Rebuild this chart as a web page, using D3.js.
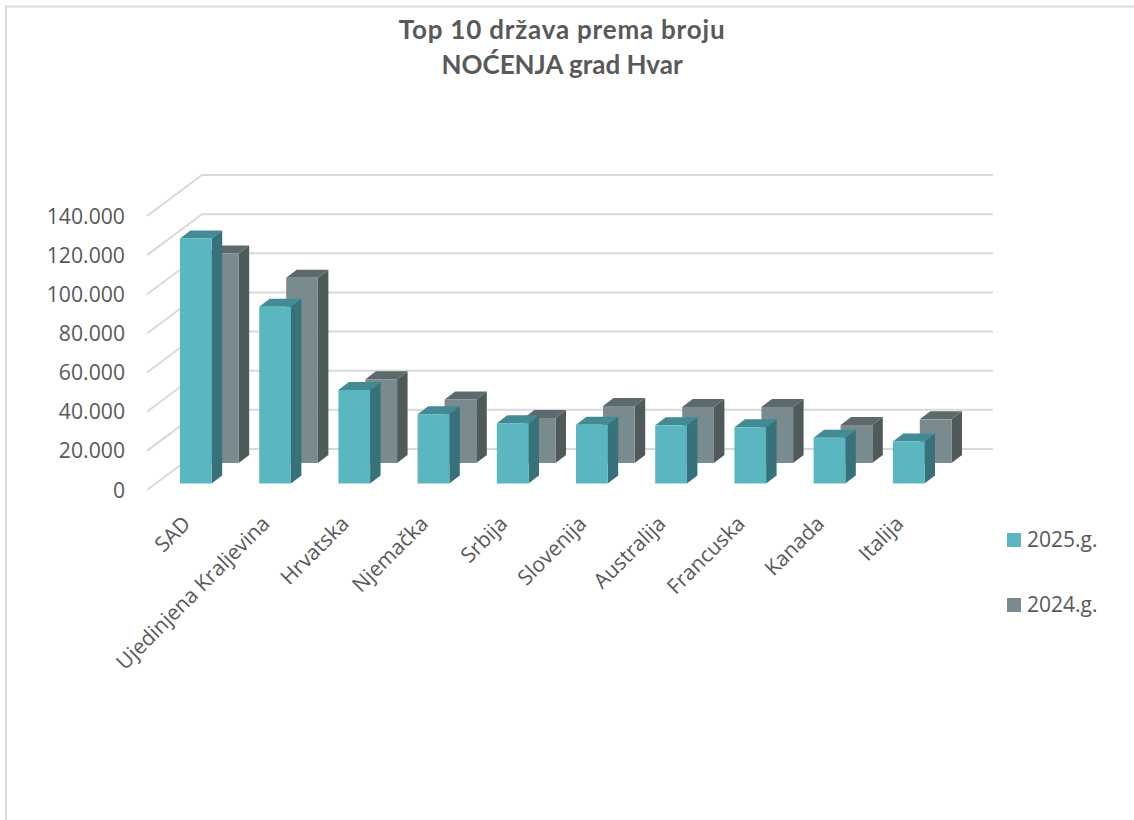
<!DOCTYPE html>
<html>
<head>
<meta charset="utf-8">
<script src="https://cdn.jsdelivr.net/npm/d3@7"></script>
<style>
  html, body { margin: 0; padding: 0; background: #fff; }
  svg { display: block; }
  text { font-family: "Open Sans", Lato, sans-serif; fill: #595959; }
</style>
</head>
<body>
<svg width="1134" height="820"></svg>
<script>
// podaci ocitani sa slike
var drzave = ["SAD", "Ujedinjena Kraljevina", "Hrvatska", "Njemačka", "Srbija", "Slovenija", "Australija", "Francuska", "Kanada", "Italija"];
var god2025 = [125200, 90300, 47800, 35400, 30800, 30000, 29700, 28700, 23400, 21400];
var god2024 = [107000, 94700, 42800, 32500, 23000, 29100, 28600, 28600, 19400, 22300];
var yTicks = [0, 20000, 40000, 60000, 80000, 100000, 120000, 140000];
var naslov = ["Top 10 država prema broju", "NOĆENJA grad Hvar"];
var serije = [
  {name: "2024.g.", values: god2024, front: "#7a8b8f", top: "#5c6a6b", side: "#4f5b5b", dx: 27, dy: -27},
  {name: "2025.g.", values: god2025, front: "#5ab6c1", top: "#428a94", side: "#37727b", dx: 0, dy: -6.5}
];

var svg = d3.select("svg");

// okvir grafikona
svg.append("path")
    .attr("d", "M6,820V6.5H1134")
    .attr("fill", "none")
    .attr("stroke", "#d9d9d9")
    .attr("stroke-width", 2);

// skale: y na prednjem rubu poda, x za prednju stranu stupca
var y = d3.scaleLinear().domain([0, 140000]).range([490, 216]);
var x = d3.scaleBand().domain(drzave).range([140.4, 964.1]).paddingInner(0.6).paddingOuter(0.5);

// pomak od prednjeg do straznjeg ruba poda, i dubina stupca
var dubina = {x: 55, y: -41};
var stupac = {x: 10.5, y: -8};

// mreza
var mreza = svg.append("g");
mreza.selectAll("path")
    .data(yTicks)
    .enter().append("path")
    .attr("d", function(d) {
      return "M147," + y(d) + "L" + (147 + dubina.x) + "," + (y(d) + dubina.y) + "H993";
    })
    .attr("fill", "none")
    .attr("stroke", "#d9d9d9")
    .attr("stroke-width", 2);

// stupci, straznja serija prva
serije.forEach(function(s) {
  var g = svg.append("g").selectAll("g")
      .data(s.values)
      .enter().append("g")
      .attr("transform", function(d, i) { return "translate(" + (x(drzave[i]) + s.dx) + ",0)"; });
  var w = x.bandwidth();
  var dno = y(0) + s.dy;
  var vrh = function(d) { return y(d) + s.dy; };

  // desna strana
  g.append("path")
      .attr("fill", s.side)
      .attr("d", function(d) {
        return "M" + w + "," + vrh(d) + "l" + stupac.x + "," + stupac.y + "V" + (dno + stupac.y) + "l" + (-stupac.x) + "," + (-stupac.y) + "Z";
      });
  // gornja strana
  g.append("path")
      .attr("fill", s.top)
      .attr("d", function(d) {
        return "M0," + vrh(d) + "l" + stupac.x + "," + stupac.y + "h" + w + "l" + (-stupac.x) + "," + (-stupac.y) + "Z";
      });
  // prednja strana
  g.append("rect")
      .attr("fill", s.front)
      .attr("y", vrh)
      .attr("width", w)
      .attr("height", function(d) { return dno - vrh(d); });
});

// y os
var yAxis = svg.append("g")
    .attr("transform", "translate(132,0)")
    .call(d3.axisLeft(y).tickValues(yTicks).tickSize(0).tickPadding(7).tickFormat(function(d) {
      return d3.format(",")(d).replace(/,/g, ".");
    }));
yAxis.select(".domain").remove();
yAxis.selectAll("text").attr("font-size", 21.2).style("font-family", "'Open Sans'").attr("dy", "0.33em");

// x os
var xAxis = svg.append("g")
    .attr("transform", "translate(0,490)")
    .call(d3.axisBottom(x).tickSize(0));
xAxis.select(".domain").remove();
xAxis.selectAll("text")
    .attr("font-size", 21)
    .style("font-family", "'Open Sans'")
    .attr("text-anchor", "end")
    .attr("x", 0)
    .attr("y", 0)
    .attr("dy", 0)
    .attr("transform", "translate(-4,35) rotate(-45)");

// naslov
svg.append("g").selectAll("text")
    .data(naslov)
    .enter().append("text")
    .attr("x", 562)
    .attr("y", function(d, i) { return 39 + i * 35; })
    .attr("text-anchor", "middle")
    .attr("font-size", 26)
    .attr("font-weight", "bold")
    .style("font-family", "Lato")
    .style("letter-spacing", function(d, i) { return i === 0 ? "0.8px" : null; })
    .text(function(d) { return d; });

// legenda
var legenda = svg.append("g").selectAll("g")
    .data(serije.slice().reverse())
    .enter().append("g")
    .attr("transform", function(d, i) { return "translate(1007," + (533 + i * 65) + ")"; });
legenda.append("rect")
    .attr("width", 14)
    .attr("height", 14)
    .attr("fill", function(d) { return d.front; });
legenda.append("text")
    .attr("x", 20)
    .attr("y", 14)
    .attr("font-size", 21)
    .text(function(d) { return d.name; });
</script>
</body>
</html>
